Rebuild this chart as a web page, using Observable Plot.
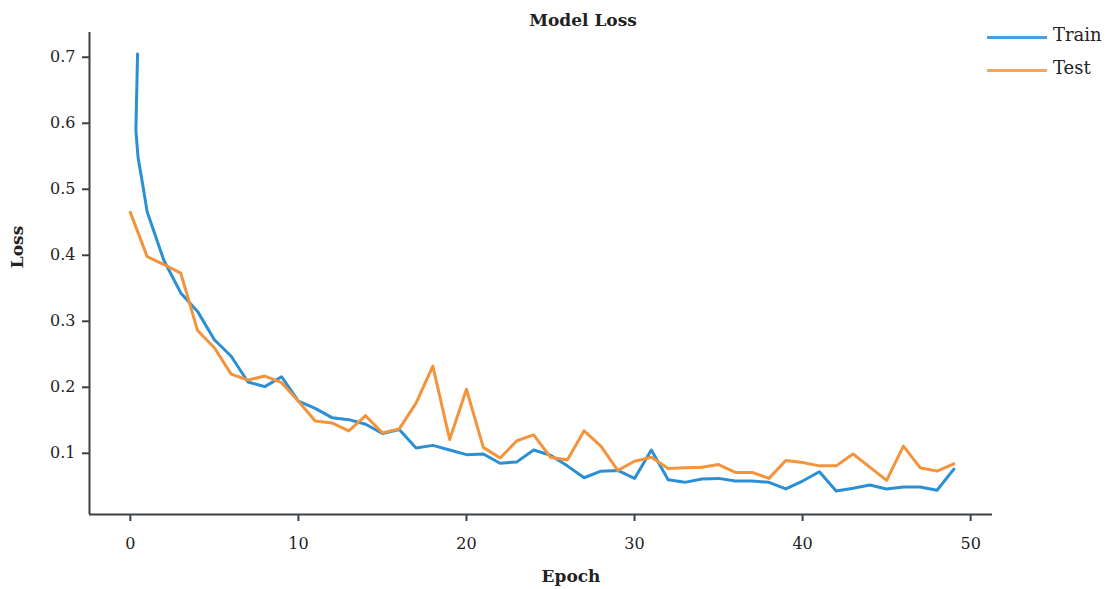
<!DOCTYPE html>
<html>
<head>
<meta charset="utf-8">
<script src="https://cdn.jsdelivr.net/npm/d3@7"></script>
<script src="https://cdn.jsdelivr.net/npm/@observablehq/plot@0.6"></script>
<style>
  body { margin: 0; background: #fff; }
  #wrap { position: relative; width: 1105px; height: 589px; font-family: "DejaVu Serif", serif; color: #222; }
  .abs { position: absolute; white-space: nowrap; }
</style>
</head>
<body>
<div id="wrap">
  <div class="abs" id="title" style="left:583px;top:20px;transform:translate(-50%,-50%);font-weight:bold;font-size:17px;">Model Loss</div>
  <div class="abs" id="ylabel" style="left:17px;top:247px;transform:translate(-50%,-50%) rotate(-90deg);font-weight:bold;font-size:17px;">Loss</div>
  <div class="abs" id="xlabel" style="left:571px;top:576px;transform:translate(-50%,-50%);font-weight:bold;font-size:17px;">Epoch</div>
  <div id="legend"></div>
</div>
<script>
// ---- data ----
const trainEpochs = [0.43, 0.33, 0.46, 0.73, 1, 2, 3, 4, 5, 6, 7, 8, 9, 10, 11, 12, 13, 14, 15, 16, 17, 18, 19, 20, 21, 22, 23, 24, 25, 26, 27, 28, 29, 30, 31, 32, 33, 34, 35, 36, 37, 38, 39, 40, 41, 42, 43, 44, 45, 46, 47, 48, 49];
const trainLoss = [0.705, 0.589, 0.548, 0.508, 0.466, 0.392, 0.343, 0.315, 0.272, 0.247, 0.208, 0.201, 0.216, 0.179, 0.168, 0.154, 0.151, 0.144, 0.130, 0.136, 0.108, 0.112, 0.105, 0.098, 0.099, 0.085, 0.087, 0.105, 0.097, 0.081, 0.063, 0.073, 0.074, 0.062, 0.105, 0.060, 0.056, 0.061, 0.062, 0.058, 0.058, 0.056, 0.046, 0.058, 0.072, 0.043, 0.047, 0.052, 0.046, 0.049, 0.049, 0.044, 0.076];
const testEpochs = [0, 1, 2, 3, 4, 5, 6, 7, 8, 9, 10, 11, 12, 13, 14, 15, 16, 17, 18, 19, 20, 21, 22, 23, 24, 25, 26, 27, 28, 29, 30, 31, 32, 33, 34, 35, 36, 37, 38, 39, 40, 41, 42, 43, 44, 45, 46, 47, 48, 49];
const testLoss = [0.465, 0.398, 0.386, 0.373, 0.286, 0.260, 0.220, 0.211, 0.217, 0.207, 0.179, 0.149, 0.146, 0.134, 0.157, 0.131, 0.137, 0.176, 0.232, 0.121, 0.197, 0.109, 0.093, 0.119, 0.128, 0.094, 0.090, 0.134, 0.111, 0.074, 0.088, 0.094, 0.077, 0.078, 0.079, 0.083, 0.071, 0.071, 0.062, 0.089, 0.086, 0.081, 0.081, 0.099, 0.079, 0.059, 0.111, 0.078, 0.073, 0.084];
const xTicks = [0, 10, 20, 30, 40, 50];
const yTicks = [0.1, 0.2, 0.3, 0.4, 0.5, 0.6, 0.7];
const seriesNames = ["Train", "Test"];
const seriesColors = ["#2a8fd4", "#f3943c"];

const xDomain = [-2.43, 51.3];
const yDomain = [0.0073, 0.7375];

const trainRows = trainEpochs.map((e, i) => ({epoch: e, loss: trainLoss[i]}));
const testRows = testEpochs.map((e, i) => ({epoch: e, loss: testLoss[i]}));

const axisColor = "#3b4147";

const chart = Plot.plot({
  width: 1105,
  height: 589,
  marginLeft: 89,
  marginRight: 113,
  marginTop: 32,
  marginBottom: 75,
  style: {fontFamily: "DejaVu Serif", fontSize: "16px", color: "#222", background: "transparent"},
  x: {domain: xDomain},
  y: {domain: yDomain},
  marks: [
    Plot.axisX({ticks: xTicks, tickSize: 7, tickPadding: 16, label: null, stroke: axisColor, strokeWidth: 2, fill: "#222", tickFormat: d => String(d)}),
    Plot.axisY({ticks: yTicks, tickSize: 7, tickPadding: 7, label: null, stroke: axisColor, strokeWidth: 2, fill: "#222", tickFormat: d => d.toFixed(1)}),
    Plot.ruleX([xDomain[0]], {stroke: axisColor, strokeWidth: 2}),
    Plot.ruleY([yDomain[0]], {stroke: axisColor, strokeWidth: 2}),
    Plot.line(trainRows, {x: "epoch", y: "loss", stroke: seriesColors[0], strokeWidth: 3}),
    Plot.line(testRows, {x: "epoch", y: "loss", stroke: seriesColors[1], strokeWidth: 3})
  ]
});
chart.style.position = "absolute";
chart.style.left = "0px";
chart.style.top = "0px";
document.getElementById("wrap").prepend(chart);

// legend
const legend = document.getElementById("legend");
seriesNames.forEach((name, i) => {
  const top = 37 + i * 33;
  const sw = document.createElement("div");
  sw.className = "abs";
  sw.style.cssText = `left:987px;top:${top - 1.5}px;width:60px;height:3px;background:${seriesColors[i]};opacity:0.85;`;
  legend.appendChild(sw);
  const t = document.createElement("div");
  t.className = "abs";
  t.style.cssText = `left:1053px;top:${top - 3}px;transform:translateY(-50%);font-size:18px;`;
  t.textContent = name;
  legend.appendChild(t);
});
</script>
</body>
</html>
